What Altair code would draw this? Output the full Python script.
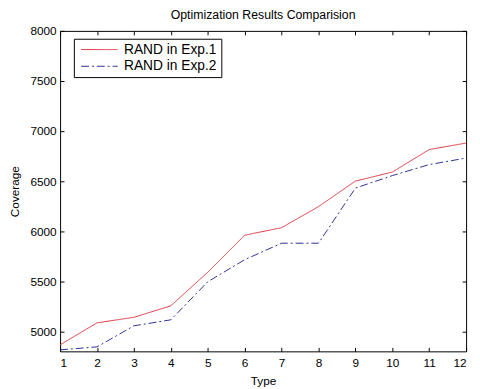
import altair as alt
import pandas as pd

types = list(range(1, 13))
exp1 = [4865, 5085, 5140, 5255, 5590, 5960, 6035, 6245, 6500, 6590, 6815, 6880]
exp2 = [4815, 4845, 5055, 5115, 5495, 5715, 5880, 5880, 6430, 6555, 6665, 6730]
series_names = ["RAND in Exp.1", "RAND in Exp.2"]
x_ticks = types
y_ticks = [5000, 5500, 6000, 6500, 7000, 7500, 8000]

rows = []
for t, a, b in zip(types, exp1, exp2):
    rows.append({"Type": t, "Coverage": a, "Series": series_names[0]})
    rows.append({"Type": t, "Coverage": b, "Series": series_names[1]})
df = pd.DataFrame(rows)

FONT = "Liberation Sans"
xscale = alt.Scale(domain=[1, 12], nice=False, zero=False)
yscale = alt.Scale(domain=[4800, 8000], nice=False, zero=False)

common_axis = dict(domain=False, grid=False, tickColor="black", tickSize=4, offset=-4,
                   labelFont=FONT, labelFontSize=12, labelColor="black",
                   titleFont=FONT, titleFontSize=12, titleFontWeight="normal", titleColor="black")

legend_opts = dict(title=None, orient="none", legendX=14, legendY=8,
                   strokeColor="black", fillColor="white", padding=4,
                   symbolType="M-0.6,0H5.6", symbolSize=144, symbolStrokeWidth=1,
                   labelFont=FONT, labelFontSize=14, labelColor="black",
                   rowPadding=3, labelOffset=33, cornerRadius=0)

base = alt.Chart(df)

lines = base.mark_line(strokeWidth=1).encode(
    x=alt.X("Type:Q", scale=xscale,
            axis=alt.Axis(values=x_ticks, title="Type", labelPadding=6, titlePadding=8,
                          format="d", **common_axis)),
    y=alt.Y("Coverage:Q", scale=yscale,
            axis=alt.Axis(values=y_ticks, title="Coverage", labelPadding=4, titlePadding=9,
                          format="d", **common_axis)),
    color=alt.Color("Series:N",
                    scale=alt.Scale(domain=series_names, range=["#d8343e", "#2c3190"]),
                    legend=alt.Legend(**legend_opts)),
    strokeDash=alt.StrokeDash("Series:N",
                              scale=alt.Scale(domain=series_names, range=[[1, 0], [8, 3, 2, 3]]),
                              legend=alt.Legend(**legend_opts)),
)

mirror_axis = dict(domain=False, grid=False, tickColor="black", tickSize=4, offset=-4,
                   labels=False, title=None)

mirror = base.mark_line(opacity=0).encode(
    x=alt.X("Type:Q", scale=xscale, axis=alt.Axis(values=x_ticks, orient="top", **mirror_axis)),
    y=alt.Y("Coverage:Q", scale=yscale, axis=alt.Axis(values=y_ticks, orient="right", **mirror_axis)),
    detail="Series:N",
)

chart = alt.layer(mirror, lines).resolve_axis(x="independent", y="independent").properties(
    width=413, height=326,
    autosize=alt.AutoSizeParams(type="none"),
    padding={"left": 53, "top": 20, "right": 6, "bottom": 35},
    title=alt.TitleParams("Optimization Results Comparision", font=FONT, fontSize=12.5,
                          fontWeight="normal", color="black", offset=4),
    background="white",
).configure_view(stroke="black", strokeWidth=1)

chart.save("out.html", embed_options={"renderer": "svg", "actions": False})
